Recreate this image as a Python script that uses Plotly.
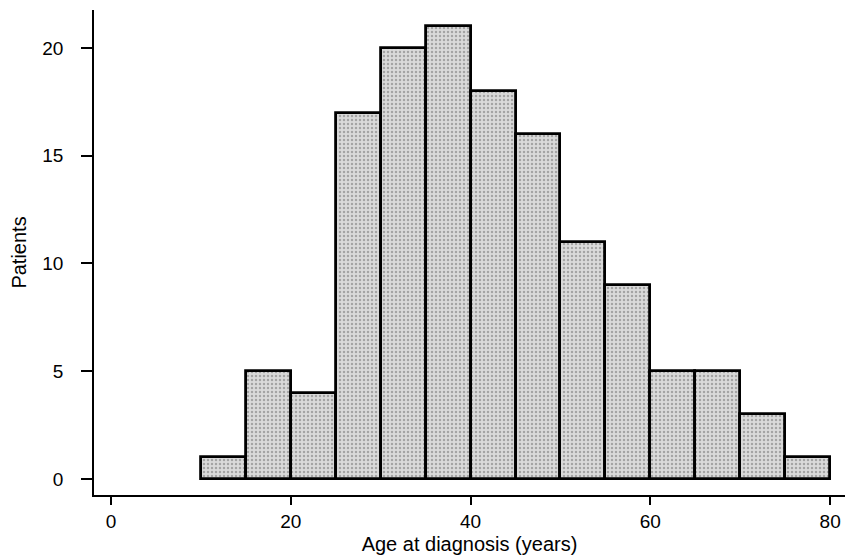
import plotly.graph_objects as go

# Histogram data: age bins (start of 5-year bins) and patient counts
bin_starts = [10, 15, 20, 25, 30, 35, 40, 45, 50, 55, 60, 65, 70, 75]
bin_width = 5
patients = [1, 5, 4, 17, 20, 21, 18, 16, 11, 9, 5, 5, 3, 1]

x_ticks = [0, 20, 40, 60, 80]
y_ticks = [0, 5, 10, 15, 20]

FONT = "Liberation Sans, Arial, Helvetica, sans-serif"

fig = go.Figure(
    go.Bar(
        x=bin_starts,
        y=patients,
        width=[bin_width] * len(bin_starts),
        offset=0,
        marker=dict(
            color="#d0d0d0",
            line=dict(color="black", width=2.8),
            pattern=dict(shape=".", fgcolor="#6e6e6e", bgcolor="#dadada",
                         size=4, solidity=0.3),
        ),
        showlegend=False,
    )
)

fig.update_layout(
    width=845,
    height=558,
    margin=dict(l=94, r=0, t=10, b=63),
    paper_bgcolor="white",
    plot_bgcolor="white",
    font=dict(family=FONT, color="black", size=19),
    bargap=0,
)

fig.update_xaxes(
    range=[-1.89, 81.65],
    tickvals=x_ticks,
    ticktext=[str(v) for v in x_ticks],
    showgrid=False,
    zeroline=False,
    showline=True,
    linecolor="black",
    linewidth=1.6,
    ticks="outside",
    ticklen=8,
    tickwidth=1.5,
    tickcolor="black",
    tickfont=dict(size=19),
    title=dict(text="Age at diagnosis (years)", font=dict(size=20), standoff=6),
)

fig.update_yaxes(
    range=[-0.74, 21.76],
    tickvals=y_ticks,
    ticktext=[str(v) for v in y_ticks],
    showgrid=False,
    zeroline=False,
    showline=True,
    linecolor="black",
    linewidth=1.6,
    ticks="outside",
    ticklen=11,
    tickwidth=1.5,
    tickcolor="black",
    ticklabelstandoff=14,
    tickfont=dict(size=19),
    title=dict(text="Patients", font=dict(size=20), standoff=10),
)

fig.write_html("out.html")
